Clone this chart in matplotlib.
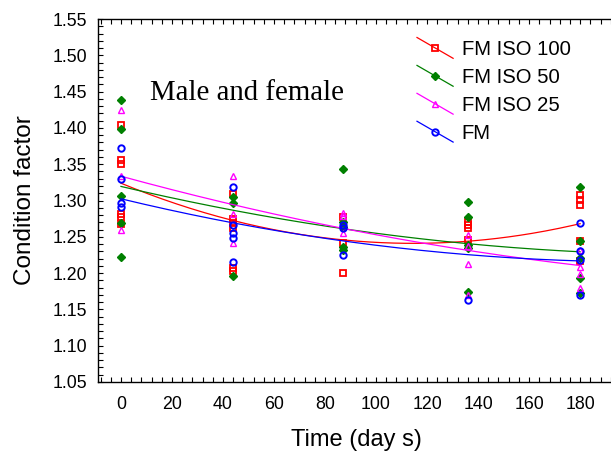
import numpy as np
import matplotlib
matplotlib.use("Agg")
import matplotlib.pyplot as plt
from matplotlib.lines import Line2D
from matplotlib.legend_handler import HandlerBase
from matplotlib.ticker import MultipleLocator

plt.rcParams['font.family'] = ['Liberation Sans', 'DejaVu Sans']

# ---- data ----
series_names = ["FM ISO 100", "FM ISO 50", "FM ISO 25", "FM"]

iso100_days = [0, 0, 0, 0, 0, 0, 44, 44, 44, 44, 44, 44, 87, 87, 87, 136, 136, 136, 136, 180, 180, 180, 180, 180]
iso100_vals = [1.404, 1.356, 1.350, 1.281, 1.277, 1.268,
               1.309, 1.275, 1.269, 1.262, 1.207, 1.203,
               1.277, 1.241, 1.200,
               1.270, 1.266, 1.262, 1.246,
               1.308, 1.301, 1.294, 1.244, 1.217]

iso50_days = [0, 0, 0, 0, 0, 44, 44, 44, 87, 87, 87, 87, 87, 136, 136, 136, 136, 136, 180, 180, 180, 180, 180]
iso50_vals = [1.438, 1.398, 1.306, 1.269, 1.222,
              1.305, 1.297, 1.196,
              1.343, 1.270, 1.263, 1.236, 1.232,
              1.298, 1.277, 1.239, 1.235, 1.174,
              1.319, 1.244, 1.221, 1.193, 1.173]

iso25_days = [0, 0, 0, 44, 44, 44, 87, 87, 87, 136, 136, 136, 136, 180, 180, 180, 180]
iso25_vals = [1.425, 1.334, 1.259,
              1.334, 1.281, 1.241,
              1.283, 1.279, 1.255,
              1.252, 1.237, 1.213, 1.170,
              1.232, 1.208, 1.199, 1.180]

fm_days = [0, 0, 0, 0, 44, 44, 44, 44, 44, 87, 87, 87, 136, 180, 180, 180, 180]
fm_vals = [1.372, 1.330, 1.297, 1.291,
           1.319, 1.266, 1.255, 1.248, 1.215,
           1.266, 1.262, 1.225,
           1.163,
           1.269, 1.230, 1.218, 1.170]

# fitted curves, values read at these days
curve_days = [0, 44, 87, 136, 180]
iso100_curve = [1.324, 1.272, 1.246, 1.244, 1.268]
iso50_curve = [1.319, 1.287, 1.262, 1.239, 1.230]
iso25_curve = [1.333, 1.295, 1.262, 1.230, 1.211]
fm_curve = [1.302, 1.270, 1.244, 1.225, 1.217]

x_ticks = [0, 20, 40, 60, 80, 100, 120, 140, 160, 180]
y_ticks = [1.05, 1.10, 1.15, 1.20, 1.25, 1.30, 1.35, 1.40, 1.45, 1.50, 1.55]

styles = [
    dict(color='#ff0000', marker='s', mfc='none', ms=4.2, mew=1.3),
    dict(color='#008000', marker='D', mfc='#008000', ms=3.8, mew=1.0),
    dict(color='#ff00ff', marker='^', mfc='none', ms=4.6, mew=1.0),
    dict(color='#0000ff', marker='o', mfc='none', ms=4.6, mew=1.4),
]

pts = [(iso100_days, iso100_vals), (iso50_days, iso50_vals),
       (iso25_days, iso25_vals), (fm_days, fm_vals)]
curves = [iso100_curve, iso50_curve, iso25_curve, fm_curve]

fig = plt.figure(figsize=(6.11, 4.62), dpi=100)
ax = fig.add_axes([98/611, 1 - 382/462, (612 - 98)/611, (382 - 19)/462])

xs = np.linspace(0, 180, 200)
handles = []
for (d, v), c, st, name in zip(pts, curves, styles, series_names):
    coef = np.polyfit(curve_days, c, 2)
    ax.plot(xs, np.polyval(coef, xs), color=st['color'], lw=0.9)
    ax.plot(d, v, linestyle='none', marker=st['marker'], color=st['color'],
            mfc=st['mfc'], mec=st['color'], ms=st['ms'], mew=st['mew'])
    handles.append(Line2D([], [], color=st['color'], lw=0.9, marker=st['marker'],
                          mfc=st['mfc'], mec=st['color'], ms=st['ms'], mew=st['mew'],
                          label=name))


class DiagHandler(HandlerBase):
    def create_artists(self, legend, orig_handle, xdescent, ydescent, width, height,
                       fontsize, trans):
        x0 = -xdescent
        x1 = x0 + width
        yc = -ydescent + height / 2
        dy = 7.5
        line = Line2D([x0, x1], [yc + dy, yc - dy], color=orig_handle.get_color(),
                      lw=orig_handle.get_linewidth())
        mk = Line2D([(x0 + x1) / 2], [yc], linestyle='none',
                    marker=orig_handle.get_marker(), mfc=orig_handle.get_markerfacecolor(),
                    mec=orig_handle.get_markeredgecolor(), ms=orig_handle.get_markersize(),
                    mew=orig_handle.get_markeredgewidth())
        line.set_transform(trans)
        mk.set_transform(trans)
        return [line, mk]


leg = ax.legend(handles=handles, handler_map={Line2D: DiagHandler()},
                loc='upper left', bbox_to_anchor=((417 - 98) / 514, 1 - 21 / 363),
                frameon=False, fontsize=14.6, handlelength=1.78, handletextpad=0.43,
                labelspacing=0.44, borderpad=0.0, borderaxespad=0.0)

ax.text(11.4, 1.4384, "Male and female", family='Liberation Serif', fontsize=20.8,
        va='baseline', ha='left')

ax.set_xlim(-9.0, 192.5)
ax.set_ylim(1.05, 1.55)
ax.set_xticks(x_ticks)
ax.set_yticks(y_ticks)
ax.set_yticklabels([f"{t:.2f}" for t in y_ticks])
ax.xaxis.set_minor_locator(MultipleLocator(4))
ax.yaxis.set_minor_locator(MultipleLocator(0.01))
ax.tick_params(axis='both', which='both', direction='in', length=3.5, width=0.8,
               labelsize=12.8, top=True)
ax.tick_params(axis='x', which='both', pad=10)
ax.tick_params(axis='y', which='both', pad=8)
for s in ['left', 'bottom', 'top']:
    ax.spines[s].set_linewidth(1.0)
ax.spines['right'].set_visible(False)

ax.set_xlabel("Time (day s)", fontsize=17)
ax.set_ylabel("Condition factor", fontsize=17.5)
ax.xaxis.set_label_coords((356 - 98) / 514, -(440 - 382) / 363)
ax.yaxis.set_label_coords(-(98 - 25) / 514, 1 - (200 - 19) / 363)
ax.xaxis.label.set_va('center')
ax.yaxis.label.set_va('center')

fig.savefig("out.png", dpi=100)
